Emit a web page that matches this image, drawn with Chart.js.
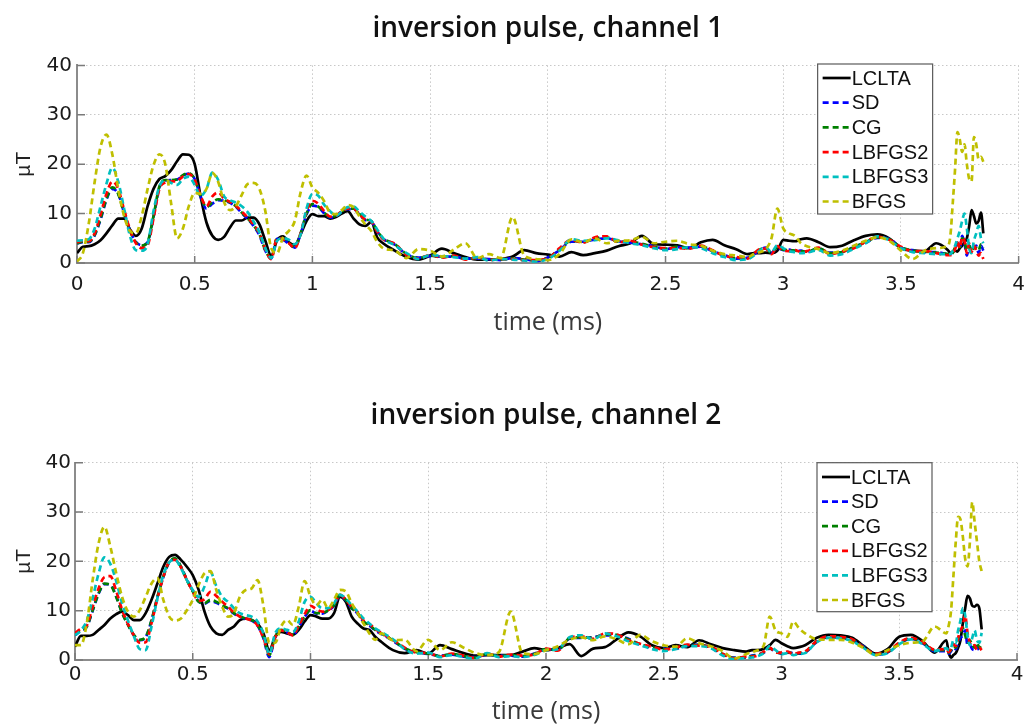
<!DOCTYPE html>
<html>
<head>
<meta charset="utf-8">
<script src="https://cdn.jsdelivr.net/npm/chart.js@4.4.1/dist/chart.umd.min.js"></script>
<style>
  html, body { margin: 0; padding: 0; background: #ffffff; }
  #page { position: relative; width: 1025px; height: 727px; overflow: hidden; background: #ffffff; }
  .panel { position: absolute; left: 0; }
  #panel1 { top: 0; }
  #panel2 { top: 388px; }
</style>
</head>
<body>
<div id="page">
  <div class="panel" id="panel1"><canvas id="chart1" width="1025" height="350"></canvas></div>
  <div class="panel" id="panel2"><canvas id="chart2" width="1025" height="339"></canvas></div>
</div>
<script>
// ---- sample times (ms) shared by every trace ----
const timeMs = [
  0,0.025,0.05,0.075,0.1,0.125,0.15,0.175,0.2,0.225,0.25,0.275,0.3,0.325,0.35,0.375,0.4,0.425,0.45,0.475,
  0.5,0.525,0.55,0.575,0.6,0.625,0.65,0.675,0.7,0.725,0.75,0.775,0.8,0.825,0.85,0.875,0.9,0.925,0.95,0.975,
  1,1.025,1.05,1.075,1.1,1.125,1.15,1.175,1.2,1.225,1.25,1.275,1.3,
  1.35,1.4,1.45,1.5,1.55,1.6,1.65,1.7,1.75,1.8,1.85,1.9,1.95,2,2.05,2.1,2.15,2.2,2.25,2.3,2.35,2.4,2.45,
  2.5,2.55,2.6,2.65,2.7,2.75,2.8,2.85,
  2.875,2.9,2.925,2.95,2.975,3,3.025,3.05,3.075,3.1,
  3.15,3.2,3.25,3.3,3.35,3.4,3.45,3.5,3.55,3.6,3.65,3.7,
  3.71,3.72,3.73,3.74,3.75,3.76,3.77,3.78,3.79,3.8,3.81,3.82,3.83,3.84,3.85
];

const seriesNames  = ['LCLTA', 'SD', 'CG', 'LBFGS2', 'LBFGS3', 'BFGS'];
const seriesColors = ['#000000', '#0000ff', '#008000', '#ff0000', '#00bfbf', '#bfbf00'];

const xTicks = [0, 0.5, 1, 1.5, 2, 2.5, 3, 3.5, 4];
const xTickLabels = ['0', '0.5', '1', '1.5', '2', '2.5', '3', '3.5', '4'];
const yTicks = [0, 10, 20, 30, 40];
const yTickLabels = ['0', '10', '20', '30', '40'];

// ---- channel 1 field magnitude (µT) ----
const ch1LCLTA = [
  2.0,3.3,3.4,3.8,4.6,6.0,7.6,9.0,9.0,6.8,5.5,7.0,11.5,15,17,17.6,18.8,20.6,22,21.9,20,13.5,8.2,5.5,4.7,5.3,7.2,8.6,8.6,9.2,9.2,7.8,4.5,1.5,4.6,5.4,4.2,3.6,5.8,8.5,9.9,9.5,9.5,9,9.3,10,10.5,9,7.8,7.5,8.3,5.2,4,
  2.5,1.2,0.7,1.5,2.9,2.0,1.2,0.7,0.7,0.8,1.3,2.6,2.0,1.7,1.3,2.2,1.6,2.0,2.5,3.4,4.0,5.5,3.8,3.7,3.6,3.0,4.2,4.7,3.6,2.8,1.8,
  2.0,2.0,2.1,2.0,2.5,4.7,4.5,4.4,4.8,5.0,
  4.2,3.2,3.5,4.6,5.5,5.8,5.0,3.0,2.5,2.4,4.0,2.6,
  2.0,2.2,2.5,2.3,3.0,3.5,4.2,5.0,7.5,10.7,9.5,8.0,8.5,10.2,6.0
];
const ch1SD = [
  4.0,4.2,4.2,5.6,8.8,12.8,15.0,14.0,10.2,6.6,4.3,3.6,4.2,9.3,15.3,16.7,16.8,16.9,17.7,18.1,17.0,13.4,11.0,12.0,12.7,12.6,12.2,11.4,10.1,8.9,7.5,5.6,2.5,0.9,4.9,4.7,3.9,3.1,5.9,9.8,11.6,11.3,10.1,9.2,9.5,10.4,10.9,10.9,9.8,8.7,8.4,6.4,4.9,
  3.7,1.7,1.1,1.4,1.3,1.3,0.9,0.9,0.8,0.6,1.0,0.8,0.4,1.1,2.6,4.3,4.3,4.8,5.0,4.4,4.1,3.8,3.4,2.8,3.2,3.1,3.3,2.4,1.6,0.9,1.1,
  1.7,2.6,3.1,2.1,3.0,2.6,2.7,2.4,2.5,2.2,
  2.9,2.1,2.1,3.3,4.1,5.1,4.9,3.1,2.6,2.2,2.2,1.8,
  1.8,2.2,3.0,4.0,3.0,5.5,4.0,1.5,3.5,2.5,3.0,3.5,2.0,3.5,2.5
];
const ch1CG = [
  4.0,4.3,4.3,5.7,9.0,13.0,15.3,14.0,10.0,6.5,4.2,3.5,4.3,9.5,15.5,16.8,16.8,16.9,17.8,18.2,17.0,13.5,11.3,12.3,12.9,12.7,12.3,11.5,10.2,9.0,7.6,5.8,2.6,1.0,5.0,4.8,4.0,3.2,6.0,10.0,11.9,11.4,10.2,9.3,9.6,10.5,11.0,11.0,9.9,8.8,8.5,6.5,5.0,
  3.8,1.8,1.0,1.5,1.2,1.4,0.8,1.0,0.7,0.7,0.9,0.7,0.5,1.0,2.8,4.5,4.2,5.0,5.2,4.3,4.3,3.9,3.3,2.9,3.3,3.0,3.4,2.5,1.5,1.0,1.0,
  1.8,2.7,3.0,2.0,3.2,2.7,2.6,2.5,2.4,2.3,
  3.0,2.0,2.2,3.2,4.2,5.2,4.8,3.2,2.5,2.3,2.1,1.8,
  1.7,2.0,3.2,3.8,3.2,5.0,4.5,2.5,3.5,2.5,3.2,3.0,2.5,3.8,3.0
];
const ch1LBFGS2 = [
  4.2,4.5,4.4,6.0,9.8,14.0,16.5,15.0,10.8,6.8,4.0,3.0,3.6,9.0,15.0,16.3,16.5,16.6,17.5,18.0,16.8,13.6,11.5,13.5,14.3,13.0,12.4,11.6,10.4,9.2,7.8,6.0,2.8,0.8,5.0,4.8,4.0,3.0,6.0,10.5,12.6,12.0,10.5,9.4,9.6,10.5,11.0,11.0,9.8,8.8,8.4,6.4,4.8,
  3.9,1.6,0.9,1.6,1.1,1.5,0.7,1.1,0.6,0.8,0.8,0.6,0.6,0.9,3.0,4.7,4.1,5.2,5.4,4.2,4.5,3.7,3.2,3.0,3.0,2.9,3.5,2.6,1.4,1.2,0.9,
  1.9,2.8,2.9,1.8,3.4,2.5,2.4,2.6,2.2,2.4,
  3.1,1.8,2.3,3.0,4.3,5.3,4.7,3.3,2.4,2.4,2.0,1.6,
  1.6,2.0,2.8,4.2,3.0,5.2,4.5,2.0,4.0,2.2,3.5,2.5,1.5,2.0,0.8
];
const ch1LBFGS3 = [
  4.5,4.6,4.8,7.0,11.5,16.0,19.3,16.5,11.0,5.5,2.6,2.5,3.8,10.5,15.5,16.7,16.2,15.8,17.0,17.5,15.8,13.6,15.0,18.3,16.8,13.5,12.7,12.2,11.5,10.3,8.4,6.2,3.0,1.0,4.5,5.0,4.7,3.8,5.8,11.0,14.0,13.6,11.8,10.5,9.6,10.4,11.3,11.4,10.4,9.4,8.5,6.8,5.0,
  3.6,2.0,0.8,1.6,1.4,1.2,0.9,1.2,0.5,0.8,0.7,0.5,0.3,0.8,2.5,4.8,4.5,4.6,5.0,4.6,4.0,3.6,3.0,2.6,2.8,3.2,3.0,2.0,1.2,0.6,0.8,
  1.5,2.5,3.2,2.2,3.6,3.0,2.4,2.2,2.0,2.1,
  2.6,1.5,1.8,2.9,4.0,5.4,4.6,3.0,2.2,2.0,1.8,1.8,
  1.8,2.5,3.5,5.0,6.5,8.5,10.0,7.0,3.0,2.0,4.5,6.0,7.5,5.0,4.0
];
const ch1BFGS = [
  0.3,2.0,8.0,16.4,23.5,26.0,22.0,15.0,9.5,6.5,6.0,9.5,15.0,19.8,22.0,20.0,12.0,5.0,7.0,11.5,14.2,14.0,15.0,18.2,16.4,12.3,10.7,11.5,13.8,16.0,16.2,15.0,10.5,3.0,2.0,5.2,6.5,8.5,14.3,17.7,15.3,14.2,12.5,10.2,9.9,10.7,11.7,11.3,9.4,7.8,6.5,4.3,3.0,
  2.5,1.0,2.8,2.5,1.3,2.7,4.0,1.0,1.8,1.0,9.3,1.5,0.8,0.6,1.8,4.8,4.2,5.0,4.0,4.5,4.6,5.3,4.0,4.3,4.5,3.8,3.5,2.5,1.8,1.5,1.2,
  1.8,2.2,2.8,5.0,11.0,7.0,6.0,5.5,4.0,3.4,
  2.8,2.0,2.5,3.5,4.5,5.2,4.5,2.5,0.8,2.5,3.0,3.5,
  5.5,12,19,26.5,25,22.5,24,20,17,16.5,25.5,24,21,21.5,20.5
];

// ---- channel 2 field magnitude (µT) ----
const ch2LCLTA = [
  2.7,4.9,4.9,5.1,6.1,7.1,8.4,9.3,9.8,9.1,8.1,8.1,9.5,12.2,15.5,18.9,20.9,21.3,20.3,18.9,17.2,14.2,9.8,6.8,5.4,5.1,6.1,6.8,8.1,8.4,8.1,7.4,5.4,2.0,4.7,5.7,5.4,5.1,6.1,7.8,9.1,8.8,8.4,8.4,9.5,12.8,11.8,8.8,7.4,6.4,6.1,4.7,3.7,
  2.0,1.4,2.0,1.3,3.0,2.2,1.4,0.9,1.0,1.0,1.0,1.7,2.4,2.0,2.4,3.2,0.8,2.3,2.6,4.2,5.6,4.8,3.0,2.4,3.0,2.6,4.0,3.2,2.4,2.0,1.7,
  2.0,2.0,2.3,3.0,4.1,3.4,2.8,2.4,2.6,3.0,
  4.5,5.1,5.0,4.5,2.8,1.3,2.2,4.7,5.1,3.8,1.5,4.0,
  1.5,0.5,1.0,1.4,2.5,4.0,7.5,10.5,13.0,12.5,11.0,10.8,11.2,10.5,6.2
];
const ch2SD = [
  5.0,6.0,6.7,10.0,13.4,15.4,15.3,12.9,9.6,7.2,5.0,4.0,4.6,8.0,12.7,16.8,19.8,20.5,18.9,16.3,14.0,11.9,11.4,12.0,11.6,11.0,10.4,9.4,8.8,8.3,8.0,7.0,4.4,0.6,4.6,6.0,5.6,5.0,6.7,8.7,10.0,9.4,9.4,10.0,11.0,13.1,12.1,10.4,9.4,7.7,7.0,6.0,5.3,
  3.9,2.3,1.7,1.2,0.9,1.1,0.7,0.6,1.1,0.9,0.9,0.7,1.3,2.1,2.1,4.3,4.5,4.6,5.0,5.0,4.3,3.1,2.5,2.3,2.3,2.9,3.1,2.5,1.1,0.5,0.5,
  0.9,1.1,1.5,2.3,1.7,1.3,1.5,1.4,1.3,1.5,
  3.7,4.6,4.5,4.0,2.7,1.1,1.5,3.3,4.3,3.4,1.8,1.8,
  1.3,1.8,2.5,2.2,3.5,4.5,5.0,6.0,3.0,3.0,2.2,2.0,2.8,2.0,2.2
];
const ch2CG = [
  5.1,6.1,6.8,10.1,13.5,15.5,15.2,12.8,9.5,7.1,5.1,4.1,4.7,8.1,12.8,16.9,19.9,20.6,18.9,16.2,13.9,11.8,11.5,12.2,11.8,11.1,10.5,9.5,8.8,8.4,8.1,7.1,4.7,1.0,4.7,6.1,5.7,5.1,6.8,8.8,10.1,9.5,9.5,10.1,11.1,13.2,12.2,10.5,9.5,7.8,7.1,6.1,5.4,
  4.0,2.4,1.6,1.3,0.8,1.2,0.8,0.5,1.2,0.8,1.0,0.8,1.2,2.2,2.0,4.4,4.6,4.5,5.2,5.1,4.2,3.2,2.6,2.2,2.4,3.0,3.0,2.6,1.2,0.4,0.6,
  0.8,1.0,1.6,2.4,1.6,1.4,1.6,1.3,1.4,1.6,
  3.8,4.7,4.6,4.1,2.6,1.2,1.6,3.4,4.4,3.5,2.0,2.0,
  1.5,2.0,3.0,2.5,4.0,5.5,6.5,5.0,3.5,4.0,3.0,2.5,3.5,2.5,3.0
];
const ch2LBFGS2 = [
  5.5,6.3,7.0,10.8,14.5,16.8,17.0,14.0,10.2,7.3,5.0,3.5,3.6,7.5,12.5,16.8,19.9,20.3,18.8,16.2,13.9,12.0,12.3,13.8,13.0,11.8,10.8,9.6,8.8,8.4,8.0,7.0,4.5,1.2,4.6,6.0,5.6,5.0,7.0,9.3,11.0,10.3,9.8,10.1,11.3,13.2,12.2,10.8,9.7,8.0,7.3,6.3,5.5,
  4.1,2.5,1.5,1.4,0.7,1.3,0.9,0.4,1.3,0.7,1.1,0.9,1.1,2.3,1.9,4.5,4.8,4.3,5.4,5.2,4.0,3.3,2.7,2.1,2.5,3.1,2.9,2.7,1.3,0.3,0.7,
  0.7,0.9,1.7,2.5,1.5,1.5,1.7,1.2,1.5,1.7,
  3.9,4.8,4.7,4.2,2.5,1.3,1.7,3.5,4.5,3.6,2.1,2.2,
  1.6,2.2,3.2,2.8,4.5,6.0,7.0,9.0,5.5,3.5,2.8,3.0,2.0,2.5,2.0
];
const ch2LBFGS3 = [
  5.0,6.0,8.0,12.5,17.5,20.8,19.5,16.0,11.5,8.0,4.8,2.2,2.0,6.8,12.5,17.2,19.8,20.3,18.6,16.2,14.2,12.8,14.9,17.8,15.0,12.8,11.8,10.5,9.5,9.1,8.8,7.8,5.4,1.2,5.4,6.4,6.1,5.7,7.8,11.8,12.8,11.5,10.5,10.5,11.5,13.2,12.5,11.1,9.8,8.4,7.4,6.4,5.7,
  4.2,2.2,1.3,1.5,0.6,1.0,0.6,0.3,1.4,0.6,0.8,0.6,1.0,2.0,2.2,4.6,5.0,4.2,5.4,4.8,3.8,3.0,2.2,1.8,2.2,2.8,2.8,2.4,0.9,0.2,0.4,
  0.5,0.8,1.4,2.8,2.0,1.2,1.4,1.0,1.2,1.4,
  3.6,4.5,4.4,3.8,2.4,1.0,1.4,3.2,4.2,3.2,1.8,2.4,
  2.0,2.5,4.0,3.5,6.0,8.0,10.5,9.0,5.0,3.0,4.5,6.0,4.0,3.5,5.5
];
const ch2BFGS = [
  3.0,3.0,7.4,16.2,23.6,27.0,23.0,17.6,12.8,9.8,8.8,10.1,12.8,15.5,16.6,12.2,8.8,8.0,8.4,10.1,12.2,15.2,17.6,18.0,14.2,10.8,8.8,9.5,12.8,14.2,14.5,16.2,11.0,3.5,3.5,6.8,8.1,7.1,10.8,16.0,12.8,11.1,12.2,10.5,12.2,14.2,13.9,11.5,9.5,7.4,5.4,4.1,5.4,
  4.0,4.1,1.8,4.1,2.0,3.6,2.5,1.4,1.0,1.6,9.8,1.4,1.2,2.0,2.8,4.1,4.6,4.0,4.8,4.2,3.2,5.1,3.8,3.0,2.7,4.4,3.4,2.8,1.8,0.3,1.2,
  1.6,2.0,3.0,8.8,6.0,5.4,4.7,7.8,6.4,5.4,
  4.2,4.1,4.1,3.5,2.4,1.0,2.0,3.0,3.5,3.8,6.8,5.4,
  7.0,10.0,17.0,24.0,29.0,28.5,25.0,20.5,19.0,24.0,32.0,28.0,24.0,20.0,18.0
];

// Short tick marks drawn on the inside of the left and bottom axes
const inwardTicks = {
  id: 'inwardTicks',
  beforeDatasetsDraw(chart) {
    const { ctx, chartArea: a, scales: { x, y } } = chart;
    ctx.save();
    ctx.strokeStyle = '#7a7a7a';
    ctx.lineWidth = 1.5;
    ctx.setLineDash([]);
    ctx.beginPath();
    x.ticks.forEach(t => {
      const px = x.getPixelForValue(t.value);
      ctx.moveTo(px, a.bottom);
      ctx.lineTo(px, a.bottom - 7);
    });
    y.ticks.forEach(t => {
      const py = y.getPixelForValue(t.value);
      ctx.moveTo(a.left, py);
      ctx.lineTo(a.left + 8, py);
    });
    ctx.stroke();
    ctx.restore();
  }
};

// Boxed legend inside the plot, one row per trace
const legendBox = {
  id: 'legendBox',
  afterDatasetsDraw(chart, args, o) {
    const { ctx, chartArea: a } = chart;
    const x0 = a.right - o.offsetRight;
    const y0 = a.top + o.offsetTop;
    ctx.save();
    ctx.setLineDash([]);
    ctx.fillStyle = '#ffffff';
    ctx.fillRect(x0, y0, o.width, o.height);
    ctx.strokeStyle = '#5a5a5a';
    ctx.lineWidth = 1.2;
    ctx.strokeRect(x0, y0, o.width, o.height);
    ctx.font = '20px "Liberation Sans", Arial, sans-serif';
    ctx.textBaseline = 'middle';
    ctx.textAlign = 'left';
    chart.data.datasets.forEach((ds, i) => {
      const y = y0 + o.firstRow + i * o.rowGap;
      ctx.strokeStyle = ds.borderColor;
      ctx.lineWidth = ds.borderWidth;
      ctx.setLineDash(ds.borderDash);
      ctx.beginPath();
      ctx.moveTo(x0 + 5, y);
      ctx.lineTo(x0 + 33, y);
      ctx.stroke();
      ctx.setLineDash([]);
      ctx.fillStyle = '#111111';
      ctx.fillText(ds.label, x0 + 34, y + 1);
    });
    ctx.restore();
  }
};

const tickFont = { family: 'DejaVu Sans', size: 20 };

function buildChart(canvasId, titleText, values, g) {
  const datasets = seriesNames.map((name, k) => ({
    label: name,
    data: timeMs.map((t, i) => ({ x: t, y: values[k][i] })),
    borderColor: seriesColors[k],
    borderWidth: 2.7,
    borderDash: k === 0 ? [] : [6, 4],
    pointRadius: 0,
    fill: false,
    cubicInterpolationMode: 'monotone',
    order: seriesNames.length - 1 - k
  }));

  return new Chart(document.getElementById(canvasId), {
    type: 'line',
    data: { datasets },
    options: {
      responsive: false,
      animation: false,
      events: [],
      layout: { autoPadding: false, padding: { left: 0, right: g.padRight, top: 0, bottom: 0 } },
      plugins: {
        legend: { display: false },
        tooltip: { enabled: false },
        title: {
          display: true,
          fullSize: false,
          text: titleText,
          color: '#111111',
          font: { family: 'Open Sans', size: 28, weight: '600' },
          padding: { top: g.titleTop, bottom: g.titleBottom }
        },
        legendBox: g.legend
      },
      scales: {
        x: {
          type: 'linear',
          min: 0,
          max: 4,
          afterFit: s => { s.height = g.xHeight; },
          afterBuildTicks: s => { s.ticks = xTicks.map(v => ({ value: v })); },
          ticks: {
            callback: (v, i) => xTickLabels[i],
            font: tickFont,
            color: '#1a1a1a',
            padding: 0,
            maxRotation: 0,
            autoSkip: false
          },
          grid: { color: '#c8c8c8', lineWidth: 1, drawTicks: true, tickLength: g.xTickGap, tickColor: 'rgba(0,0,0,0)' },
          border: { display: true, color: '#8c8c8c', width: 2, dash: [1.5, 2.5] },
          title: {
            display: true,
            text: 'time (ms)',
            color: '#3a3a3a',
            font: { family: 'Open Sans', size: 25 },
            padding: { top: 0, bottom: g.xTitleBottom }
          }
        },
        y: {
          min: 0,
          max: 40,
          afterFit: s => { s.width = g.yWidth; },
          afterBuildTicks: s => { s.ticks = yTicks.map(v => ({ value: v })); },
          ticks: {
            callback: (v, i) => yTickLabels[i],
            font: tickFont,
            color: '#1a1a1a',
            padding: g.yTickPad
          },
          grid: { color: '#c8c8c8', lineWidth: 1, drawTicks: false },
          border: { display: true, color: '#8c8c8c', width: 2, dash: [1.5, 2.5] },
          title: {
            display: true,
            text: 'µT',
            color: '#222222',
            font: { family: 'Liberation Sans', size: 21 },
            padding: { top: 12, bottom: 0 }
          }
        }
      }
    },
    plugins: [inwardTicks, legendBox]
  });
}

buildChart('chart1', 'inversion pulse, channel 1',
  [ch1LCLTA, ch1SD, ch1CG, ch1LBFGS2, ch1LBFGS3, ch1BFGS],
  {
    padRight: 6, yWidth: 77, xHeight: 87, titleTop: 12, titleBottom: 19.8,
    xTickGap: 10, xTitleBottom: 12, yTickPad: 5,
    legend: { offsetRight: 201, offsetTop: -1.4, width: 115, height: 150, firstRow: 14, rowGap: 24.7 }
  });

buildChart('chart2', 'inversion pulse, channel 2',
  [ch2LCLTA, ch2SD, ch2CG, ch2LBFGS2, ch2LBFGS3, ch2BFGS],
  {
    padRight: 8, yWidth: 75, xHeight: 67, titleTop: 11.5, titleBottom: 29.6,
    xTickGap: 3, xTitleBottom: 0, yTickPad: 4,
    legend: { offsetRight: 200, offsetTop: 0, width: 115, height: 149, firstRow: 14.3, rowGap: 24.6 }
  });
</script>
</body>
</html>
